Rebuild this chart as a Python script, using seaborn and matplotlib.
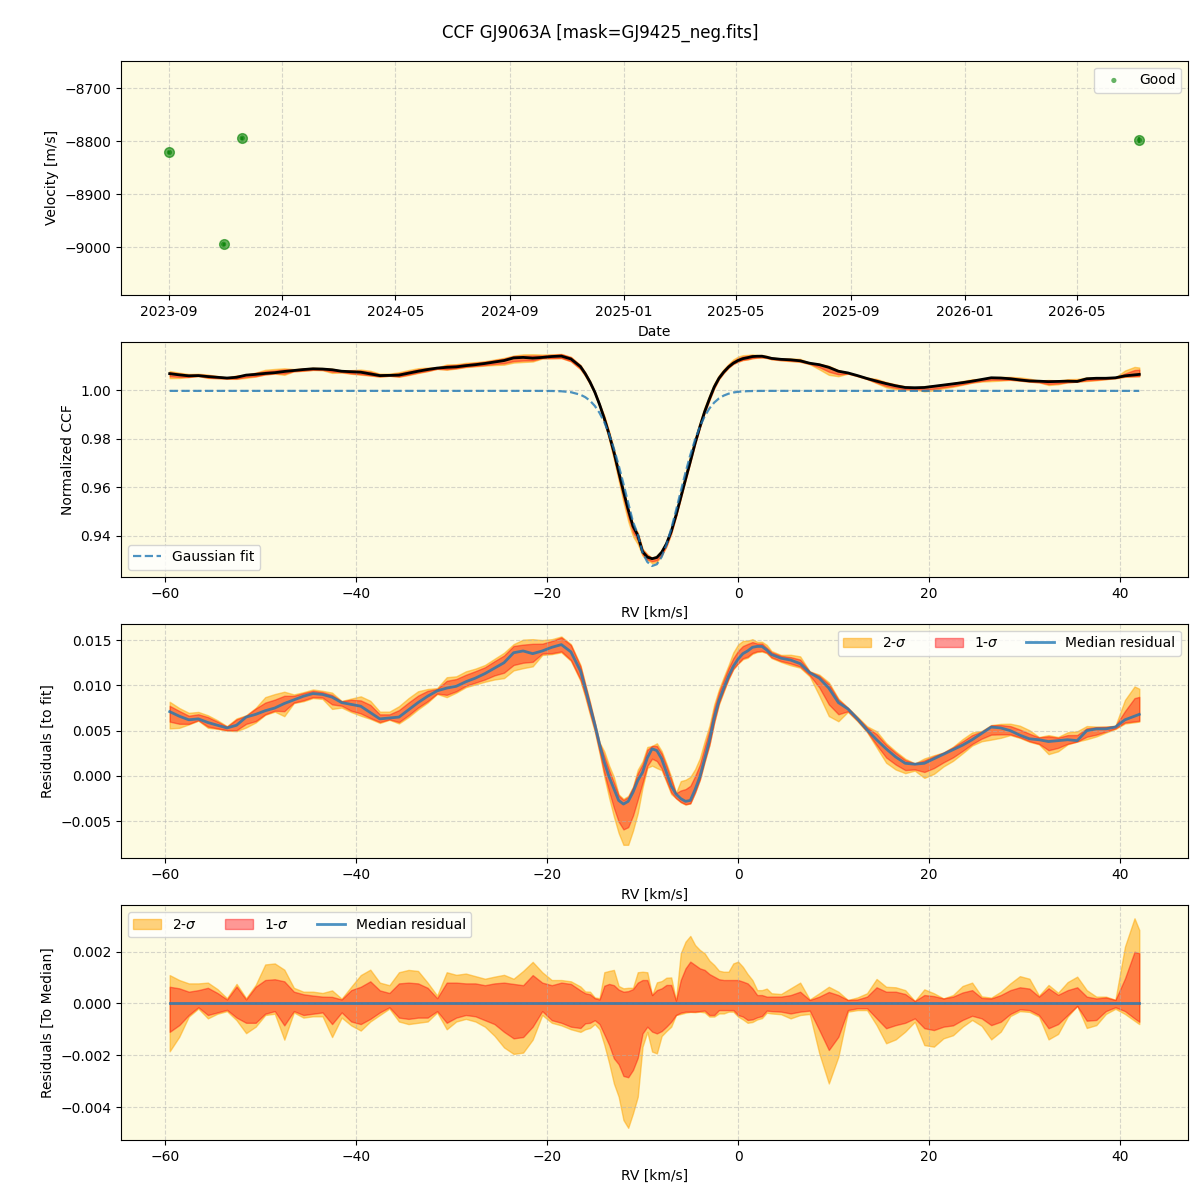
import numpy as np
import pandas as pd
import seaborn as sns
import matplotlib.pyplot as plt
import matplotlib.dates as mdates

# ---- RV time series (top panel) ----
obs_dates = ['2023-09-02', '2023-10-30', '2023-11-19', '2026-07-07']
obs_vel = [-8821, -8994, -8794, -8798]
obs_err = [3, 3, 3, 6]

# ---- CCF grid [km/s] ----
rv = np.append(np.arange(-59.5, 42.0, 1.0), 42.0)

# Gaussian fit to the CCF
gauss_fit = ([0.99973] * 39 +
             [0.99972, 0.99969, 0.99957, 0.99919, 0.99815, 0.99568, 0.99065, 0.98191,
              0.96908, 0.95355, 0.94067, 0.92923, 0.92829, 0.93630, 0.95040, 0.96610,
              0.97966, 0.98923, 0.99491, 0.99779, 0.99905, 0.99952, 0.99967, 0.99972] +
             [0.99973] * 40)

# median residual (CCF - fit)
resid_med = [0.0071, 0.0066, 0.0062, 0.0063, 0.0059, 0.0056, 0.0053, 0.0056, 0.0065, 0.0068,
             0.0072, 0.0075, 0.0080, 0.0084, 0.0088, 0.0091, 0.0090, 0.0087, 0.0081, 0.0079,
             0.0077, 0.0070, 0.0063, 0.0064, 0.0065, 0.0073, 0.0081, 0.0088, 0.0094, 0.0097,
             0.0099, 0.0104, 0.0108, 0.0113, 0.0119, 0.0125, 0.0136, 0.0138, 0.0135, 0.0138,
             0.0142, 0.0145, 0.0137, 0.0116, 0.0077, 0.0035, -0.0001, -0.0027, -0.0028, -0.0005,
             0.0020, 0.0028, 0.0004, -0.0020, -0.0028, -0.0015, 0.0019, 0.0064, 0.0097, 0.0121,
             0.0135, 0.0142, 0.0143, 0.0134, 0.0130, 0.0128, 0.0124, 0.0114, 0.0108, 0.0097,
             0.0081, 0.0074, 0.0063, 0.0051, 0.0040, 0.0030, 0.0021, 0.0014, 0.0013, 0.0014,
             0.0019, 0.0024, 0.0029, 0.0034, 0.0040, 0.0047, 0.0054, 0.0053, 0.0050, 0.0045,
             0.0041, 0.0040, 0.0038, 0.0039, 0.0040, 0.0039, 0.0050, 0.0052, 0.0052, 0.0054,
             0.0062, 0.0066, 0.0068]

# spread around the median, in units of 1e-4
sig1_hi = [6.4, 5.8, 4.5, 5.1, 6.0, 4.0, 1.5, 6.5, 1.5, 6.4,
           9.0, 9.3, 8.5, 4.5, 3.5, 3.0, 2.6, 2.5, 1.5, 5.1,
           6.4, 8.5, 5.0, 4.0, 7.7, 8.0, 7.7, 6.0, 2.0, 8.0,
           8.0, 7.7, 7.7, 7.0, 7.7, 8.0, 7.5, 7.0, 10.9, 8.0,
           7.0, 8.0, 7.5, 5.0, 3.5, 1.5, 7.5, 5.3, 4.7, 8.0,
           9.0, 5.1, 7.1, 1.0, 13.5, 14.8, 12.9, 10.3, 9.0, 9.0,
           8.4, 5.8, 3.2, 2.6, 2.6, 3.2, 4.5, 1.3, 2.6, 4.4,
           3.2, 1.3, 1.5, 2.6, 6.2, 4.5, 4.5, 3.6, 0.9, 3.2,
           2.8, 1.9, 2.6, 4.2, 5.1, 2.1, 1.9, 3.2, 5.1, 6.2,
           5.7, 2.6, 5.8, 3.3, 5.1, 6.2, 2.6, 1.9, 2.3, 1.3,
           9.6, 19.9, 19.3]
sig2_hi = [10.9, 9.0, 7.7, 7.7, 8.0, 5.5, 2.0, 7.5, 2.0, 7.1,
           15.0, 15.4, 13.0, 6.0, 4.5, 4.5, 4.0, 5.0, 1.8, 6.4,
           10.9, 13.0, 8.0, 7.0, 12.0, 12.9, 12.5, 8.0, 3.0, 12.0,
           11.0, 11.5, 10.5, 9.5, 10.3, 11.0, 9.5, 12.5, 16.0, 12.0,
           9.0, 9.0, 8.5, 6.5, 4.5, 2.0, 12.5, 6.7, 6.0, 12.0,
           12.0, 8.1, 9.9, 1.3, 23.8, 22.5, 19.3, 14.8, 12.2, 15.4,
           14.1, 9.0, 5.1, 3.9, 3.6, 5.8, 8.0, 1.5, 3.9, 6.4,
           4.5, 1.3, 2.3, 3.9, 9.4, 6.4, 6.2, 5.1, 0.9, 5.4,
           3.9, 1.9, 3.2, 6.7, 8.0, 2.7, 2.2, 4.5, 7.7, 10.5,
           9.5, 3.0, 7.1, 4.1, 8.2, 10.3, 5.1, 2.6, 2.6, 1.4,
           21.9, 32.8, 28.3]
sig1_lo = [-11.0, -8.4, -4.5, -1.5, -4.5, -3.5, -2.5, -5.5, -7.5, -7.5,
           -4.0, -3.0, -8.5, -3.0, -4.5, -4.0, -3.5, -8.0, -3.5, -7.0,
           -8.0, -6.0, -3.5, -1.5, -5.5, -6.0, -5.5, -5.5, -3.0, -7.5,
           -5.5, -4.5, -5.0, -6.5, -8.0, -11.0, -13.5, -13.0, -9.0, -3.0,
           -6.5, -7.5, -9.0, -9.5, -7.5, -8.0, -16.0, -23.5, -28.5, -21.0,
           -9.0, -11.6, -9.0, -4.5, -3.2, -3.2, -2.8, -4.5, -2.6, -2.6,
           -5.1, -6.2, -4.9, -3.0, -3.2, -3.9, -3.2, -2.8, -10.3, -18.0,
           -12.9, -2.6, -1.9, -1.9, -5.8, -9.6, -8.4, -7.5, -5.8, -9.6,
           -10.3, -9.0, -8.5, -6.4, -4.8, -5.8, -8.4, -7.1, -4.1, -2.3,
           -2.6, -4.5, -9.6, -8.0, -4.5, -1.0, -6.7, -6.4, -3.0, -1.5,
           -3.0, -5.8, -7.1]
sig2_lo = [-18.5, -12.9, -5.1, -2.0, -5.8, -4.0, -3.0, -6.5, -11.5, -9.0,
           -4.5, -4.0, -14.0, -3.5, -5.5, -5.0, -5.0, -13.0, -5.5, -8.5,
           -10.5, -7.0, -4.5, -2.0, -7.0, -8.0, -7.5, -7.0, -3.5, -10.0,
           -7.0, -6.0, -7.0, -9.0, -12.5, -17.0, -19.5, -19.0, -14.0, -4.5,
           -7.5, -8.5, -10.0, -11.0, -9.5, -10.0, -23.0, -36.0, -48.0, -36.0,
           -11.0, -19.3, -10.7, -4.5, -3.6, -3.4, -3.5, -5.1, -3.9, -3.2,
           -6.2, -7.2, -5.7, -3.9, -4.2, -5.8, -4.5, -4.1, -19.3, -30.9,
           -20.6, -3.2, -2.6, -2.6, -8.4, -15.4, -13.9, -10.9, -7.1, -16.1,
           -16.7, -13.5, -12.3, -9.0, -6.4, -8.7, -13.9, -10.9, -4.9, -3.0,
           -3.3, -5.1, -13.9, -11.8, -5.1, -1.0, -9.5, -8.4, -4.1, -2.1,
           -4.1, -6.7, -8.0]

# extra samples at whole km/s across the line core (-16 ... 3)
rv_core = np.arange(-16.0, 4.0, 1.0)
gauss_core = [0.99715, 0.99356, 0.98681, 0.97598, 0.96146, 0.94580, 0.93309, 0.92758,
              0.93130, 0.94286, 0.95832, 0.97332, 0.98497, 0.99250, 0.99663, 0.99857,
              0.99935, 0.99962, 0.99970, 0.99972]
resid_core = [0.0097, 0.0057, 0.0015, -0.0014, -0.0031, -0.0018, 0.0004, 0.0030,
              0.0019, -0.0011, -0.0025, -0.0027, -0.0001, 0.0039, 0.0083, 0.0110,
              0.0129, 0.0138, 0.0143, 0.0139]
sig1_hi_core = [3.9, 2.0, 6.8, 7.0, 4.5, 5.5, 9.0, 3.2, 5.8, 7.1,
                9.0, 16.1, 13.5, 11.3, 9.3, 9.0, 9.0, 7.7, 3.2, 2.6]
sig2_hi_core = [4.6, 2.3, 12.0, 12.9, 5.8, 6.0, 12.2, 3.2, 8.6, 10.0,
                19.3, 26.0, 20.6, 16.5, 12.6, 12.2, 16.1, 11.3, 5.1, 5.7]
sig1_lo_core = [-7.7, -6.5, -12.0, -21.2, -28.0, -25.7, -11.6, -10.9, -10.7, -7.1,
                -3.6, -3.2, -3.0, -4.5, -2.6, -2.6, -4.5, -6.4, -5.4, -2.8]
sig2_lo_core = [-10.0, -8.0, -16.0, -30.9, -45.0, -42.4, -16.7, -18.6, -12.6, -9.0,
                -4.1, -3.3, -3.2, -5.1, -3.9, -3.2, -5.1, -7.5, -6.2, -3.6]

# merge the two samplings into one sorted table
df = pd.DataFrame({
    'rv': np.concatenate([rv, rv_core]),
    'gauss': np.concatenate([gauss_fit, gauss_core]),
    'resid': np.concatenate([resid_med, resid_core]),
    's1h': np.concatenate([sig1_hi, sig1_hi_core]) * 1e-4,
    's2h': np.concatenate([sig2_hi, sig2_hi_core]) * 1e-4,
    's1l': np.concatenate([sig1_lo, sig1_lo_core]) * 1e-4,
    's2l': np.concatenate([sig2_lo, sig2_lo_core]) * 1e-4,
}).sort_values('rv').reset_index(drop=True)
df['ccf'] = df['gauss'] + df['resid']
df['zero'] = 0.0
x = df['rv'].values

bg = '#fdfbe2'
fig, axes = plt.subplots(4, 1, figsize=(12, 12), dpi=100)
fig.subplots_adjust(left=0.1008, right=0.99, top=0.9495, bottom=0.05, hspace=0.2)
fig.suptitle('CCF GJ9063A [mask=GJ9425_neg.fits]', y=0.973, va='center', fontsize=12)
for ax in axes:
    ax.set_facecolor(bg)
    ax.grid(True, linestyle='--', alpha=0.5)

# Panel 1: velocities
ax = axes[0]
dates = pd.to_datetime(obs_dates)
ax.errorbar(dates, obs_vel, yerr=obs_err, fmt='o', color='green', ms=7, alpha=0.6)
sns.scatterplot(x=dates, y=obs_vel, color='green', s=14, alpha=0.6, edgecolor='none',
                label='Good', ax=ax)
ax.set_ylim(-9090, -8648)
ax.xaxis.set_major_locator(mdates.MonthLocator(bymonth=[1, 5, 9]))
ax.xaxis.set_major_formatter(mdates.DateFormatter('%Y-%m'))
ax.set_xlabel('Date')
ax.set_ylabel('Velocity [m/s]')
ax.legend(loc='upper right')

# Panel 2: CCF
ax = axes[1]
ax.fill_between(x, df['ccf'] + df['s2l'], df['ccf'] + df['s2h'], color='orange', alpha=0.5)
ax.fill_between(x, df['ccf'] + df['s1l'], df['ccf'] + df['s1h'], color='red', alpha=0.4)
sns.lineplot(data=df, x='rv', y='ccf', color='black', lw=2, ax=ax)
sns.lineplot(data=df, x='rv', y='gauss', color='tab:blue', alpha=0.8, lw=1.6, ls='--',
             label='Gaussian fit', ax=ax)
ax.set_ylim(0.9231, 1.0198)
ax.set_xlabel('RV [km/s]')
ax.set_ylabel('Normalized CCF')
ax.legend(loc='lower left')

# Panel 3: residuals to fit
ax = axes[2]
ax.fill_between(x, df['resid'] + df['s2l'], df['resid'] + df['s2h'], color='orange', alpha=0.5,
                label='2-$\\sigma$')
ax.fill_between(x, df['resid'] + df['s1l'], df['resid'] + df['s1h'], color='red', alpha=0.4,
                label='1-$\\sigma$')
sns.lineplot(data=df, x='rv', y='resid', color='tab:blue', alpha=0.8, lw=2,
             label='Median residual', ax=ax)
ax.set_ylim(-0.0091, 0.0168)
ax.set_xlabel('RV [km/s]')
ax.set_ylabel('Residuals [to fit]')
ax.legend(loc='upper right', ncol=3)

# Panel 4: residuals to median
ax = axes[3]
ax.fill_between(x, df['s2l'], df['s2h'], color='orange', alpha=0.5, label='2-$\\sigma$')
ax.fill_between(x, df['s1l'], df['s1h'], color='red', alpha=0.4, label='1-$\\sigma$')
sns.lineplot(data=df, x='rv', y='zero', color='tab:blue', alpha=0.8, lw=2,
             label='Median residual', ax=ax)
ax.set_ylim(-0.00527, 0.00378)
ax.set_xlabel('RV [km/s]')
ax.set_ylabel('Residuals [To Median]')
ax.legend(loc='upper left', ncol=3)

for ax in axes[1:]:
    ax.set_xlim(-64.6, 47.1)

fig.savefig('out.png', dpi=100)
